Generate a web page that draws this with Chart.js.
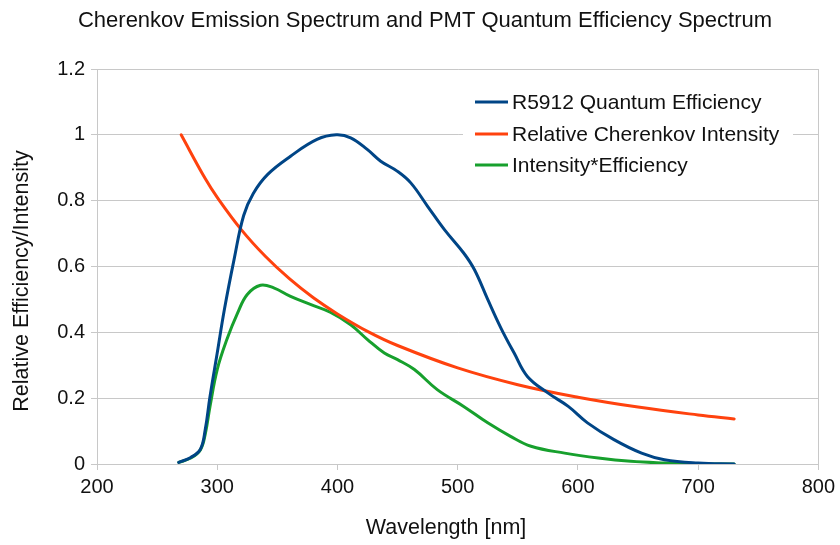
<!DOCTYPE html>
<html>
<head>
<meta charset="utf-8">
<script src="https://cdn.jsdelivr.net/npm/chart.js@4.4.1/dist/chart.umd.min.js"></script>
<style>
  html, body { margin: 0; padding: 0; background: #ffffff; }
  #wrap { width: 840px; height: 545px; }
</style>
</head>
<body>
<div id="wrap"><canvas id="c" width="840" height="545"></canvas></div>
<script>
// Wavelengths (nm) and relative values for each curve
const qeWavelength = [268, 278, 286, 290, 294, 300, 306, 314, 322, 330, 342, 361, 383, 399, 411, 425, 436, 450, 461, 475, 489, 505, 514, 525, 536, 547, 558, 575, 592, 608, 630, 653, 672, 700, 730];
const qeValues     = [0.005, 0.02, 0.045, 0.104, 0.205, 0.337, 0.47, 0.621, 0.755, 0.822, 0.88, 0.935, 0.986, 1.0, 0.991, 0.955, 0.92, 0.889, 0.854, 0.783, 0.712, 0.641, 0.59, 0.5, 0.413, 0.337, 0.266, 0.216, 0.175, 0.125, 0.074, 0.033, 0.013, 0.003, 0.0];

const cherenkovWavelength = [270, 290, 300, 320, 340, 360, 380, 400, 425, 450, 500, 550, 600, 650, 700, 730];
const cherenkovValues     = [1.0, 0.867, 0.81, 0.712, 0.631, 0.563, 0.505, 0.456, 0.403, 0.360, 0.292, 0.241, 0.203, 0.173, 0.149, 0.137];

const productWavelength = [268, 278, 286, 290, 294, 300, 308, 317, 325, 336, 347, 361, 378, 394, 411, 425, 439, 450, 464, 483, 505, 525, 544, 561, 589, 617, 644, 672, 700, 730];
const productValues     = [0.005, 0.018, 0.043, 0.09, 0.175, 0.287, 0.378, 0.459, 0.515, 0.543, 0.535, 0.509, 0.484, 0.461, 0.423, 0.378, 0.337, 0.317, 0.287, 0.226, 0.175, 0.125, 0.084, 0.054, 0.033, 0.018, 0.008, 0.003, 0.0, 0.0];

const seriesNames = ['R5912 Quantum Efficiency', 'Relative Cherenkov Intensity', 'Intensity*Efficiency'];
const seriesColors = ['#004586', '#ff420e', '#17a02d'];

const titleText = 'Cherenkov Emission Spectrum and PMT Quantum Efficiency Spectrum';
const xTitle = 'Wavelength [nm]';
const yTitle = 'Relative Efficiency/Intensity';

const FONT = "'Liberation Sans', Arial, sans-serif";
const GRID = '#c8c8c8';
const INK = '#111111';

function pts(xs, ys) { return xs.map((x, i) => ({ x: x, y: ys[i] })); }

// Chart title, axis titles and the legend box in the upper right of the plot area
const decorations = {
  id: 'decorations',
  afterDraw(chart) {
    const ctx = chart.ctx;
    ctx.save();
    ctx.fillStyle = INK;
    ctx.textAlign = 'center';
    ctx.textBaseline = 'middle';
    ctx.font = '22px ' + FONT;
    ctx.fillText(titleText, 425, 21);

    ctx.font = '21.5px ' + FONT;
    ctx.fillText(xTitle, 446, 528);
    ctx.save();
    ctx.translate(22, 281);
    ctx.rotate(-Math.PI / 2);
    ctx.fillText(yTitle, 0, 0);
    ctx.restore();

    // legend
    ctx.fillStyle = '#ffffff';
    ctx.fillRect(463, 86, 330, 95);
    ctx.font = '21px ' + FONT;
    ctx.textAlign = 'left';
    const rows = [102, 134, 165];
    chart.data.datasets.forEach((ds, i) => {
      ctx.strokeStyle = ds.borderColor;
      ctx.lineWidth = 3;
      ctx.beginPath();
      ctx.moveTo(475, rows[i]);
      ctx.lineTo(508, rows[i]);
      ctx.stroke();
      ctx.fillStyle = INK;
      ctx.fillText(ds.label, 512, rows[i] + 1);
    });
    ctx.restore();
  }
};

new Chart(document.getElementById('c'), {
  type: 'line',
  data: {
    datasets: [
      { label: seriesNames[0], data: pts(qeWavelength, qeValues), borderColor: seriesColors[0] },
      { label: seriesNames[1], data: pts(cherenkovWavelength, cherenkovValues), borderColor: seriesColors[1] },
      { label: seriesNames[2], data: pts(productWavelength, productValues), borderColor: seriesColors[2] }
    ]
  },
  options: {
    responsive: false,
    animation: false,
    layout: { padding: { left: 0, right: 21, top: 69, bottom: 0 } },
    elements: {
      line: { borderWidth: 3, tension: 0.4, fill: false, borderCapStyle: 'round', borderJoinStyle: 'round' },
      point: { radius: 0, hitRadius: 0 }
    },
    plugins: {
      legend: { display: false },
      title: { display: false },
      tooltip: { enabled: false }
    },
    scales: {
      x: {
        type: 'linear',
        min: 200, max: 800,
        afterFit(scale) { scale.height = 81; },
        ticks: { stepSize: 100, color: INK, font: { family: FONT, size: 20 }, padding: 5, maxRotation: 0 },
        grid: {
          drawOnChartArea: true,
          color: (c) => (c.tick && c.tick.value === 800) ? GRID : 'rgba(0,0,0,0)',
          tickColor: GRID,
          tickLength: 6,
          lineWidth: 1
        },
        border: { display: true, color: GRID, width: 1 },
        title: { display: false }
      },
      y: {
        min: 0, max: 1.2,
        afterFit(scale) { scale.width = 97; },
        ticks: { stepSize: 0.2, color: INK, font: { family: FONT, size: 20 }, padding: 6,
          callback: (v) => Number(v.toFixed(1)).toString() },
        grid: { color: GRID, tickColor: GRID, tickLength: 6, lineWidth: 1 },
        border: { display: true, color: GRID, width: 1 },
        title: { display: false }
      }
    }
  },
  plugins: [decorations]
});
</script>
</body>
</html>
